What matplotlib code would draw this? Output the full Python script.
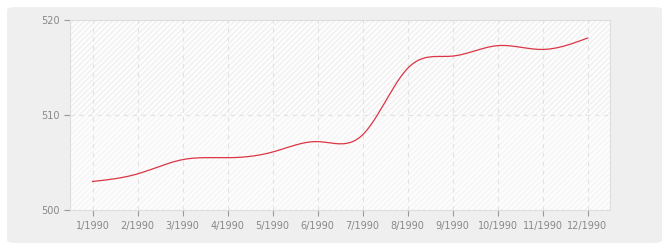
import matplotlib
matplotlib.use("Agg")
import matplotlib.pyplot as plt
import numpy as np
from matplotlib.patches import FancyBboxPatch, Rectangle

months = ["1/1990", "2/1990", "3/1990", "4/1990", "5/1990", "6/1990",
          "7/1990", "8/1990", "9/1990", "10/1990", "11/1990", "12/1990"]
values = [503.0, 503.8, 505.3, 505.5, 506.1, 507.2,
          507.9, 514.9, 516.2, 517.3, 516.9, 518.1]
yticks = [500, 510, 520]


def natural_spline(x, y, n=400):
    x = np.asarray(x, float); y = np.asarray(y, float)
    m = len(x); h = np.diff(x)
    A = np.zeros((m, m)); b = np.zeros(m)
    A[0, 0] = A[-1, -1] = 1
    for i in range(1, m - 1):
        A[i, i - 1] = h[i - 1]; A[i, i] = 2 * (h[i - 1] + h[i]); A[i, i + 1] = h[i]
        b[i] = 3 * ((y[i + 1] - y[i]) / h[i] - (y[i] - y[i - 1]) / h[i - 1])
    c = np.linalg.solve(A, b)
    xs = np.linspace(x[0], x[-1], n); ys = np.empty_like(xs)
    for k, xv in enumerate(xs):
        i = min(np.searchsorted(x, xv, side="right") - 1, m - 2)
        d = xv - x[i]
        bi = (y[i + 1] - y[i]) / h[i] - h[i] * (2 * c[i] + c[i + 1]) / 3
        di = (c[i + 1] - c[i]) / (3 * h[i])
        ys[k] = y[i] + bi * d + c[i] * d ** 2 + di * d ** 3
    return xs, ys


W, H = 670, 250
fig = plt.figure(figsize=(W / 100, H / 100), dpi=100)
fig.patch.set_facecolor("white")
panel = FancyBboxPatch((7 / W, 7 / H), 655 / W, 236 / H,
                       boxstyle="round,pad=0,rounding_size=0.012",
                       transform=fig.transFigure, facecolor="#efefef",
                       edgecolor="none", zorder=-5)
fig.patches.append(panel)

ax = fig.add_axes([70 / W, (H - 210) / H, 540 / W, 190 / H])
ax.set_zorder(2)
ax.set_facecolor("#fdfdfd")
x = np.arange(len(months))
ax.set_xlim(-0.5, len(months) - 0.5)
ax.set_ylim(yticks[0], yticks[-1])

# hatched bands
ax.add_patch(Rectangle((-0.5, 510), 12, 10, facecolor="#fdfdfd",
                       edgecolor="#f0f0f0", hatch="//////", lw=0, zorder=0))
ax.add_patch(Rectangle((-0.5, 500), 12, 10, facecolor="#fdfdfd",
                       edgecolor="#f5f5f5", hatch="//////", lw=0, zorder=0))

for xi in x:
    ax.axvline(xi, color="#e2e2e2", lw=0.8, ls=(0, (4, 4)), zorder=1)
ax.axhline(510, color="#e2e2e2", lw=0.8, ls=(0, (4, 4)), zorder=1)

xs, ys = natural_spline(x, values)
ax.plot(xs, ys, color="#dc3545", lw=0.9, zorder=3)

ax.set_xticks(x)
ax.set_xticklabels(months)
ax.set_yticks(yticks)
for s in ax.spines.values():
    s.set_color("#dddddd"); s.set_linewidth(0.8)
ax.tick_params(axis="both", colors="#999999", labelcolor="#888888",
               labelsize=7, length=4, width=0.8)
ax.tick_params(axis="x", pad=4)

fig.savefig("out.png", dpi=100, facecolor="white")
